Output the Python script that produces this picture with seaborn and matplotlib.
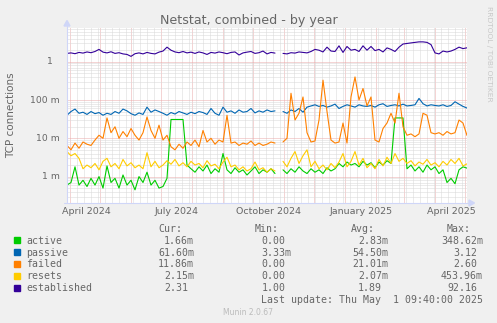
import numpy as np
import pandas as pd
import matplotlib
matplotlib.use("Agg")
import matplotlib.pyplot as plt
import matplotlib.dates as mdates
from matplotlib.lines import Line2D
from matplotlib.patches import Polygon, Rectangle
from matplotlib.ticker import LogLocator, NullFormatter
import seaborn as sns

# ---- data: one sample every 4 days, Munin yearly view (values in milli-units) ----
start = pd.Timestamp("2024-03-29")
dates = pd.date_range(start, periods=101, freq="4D")
nan = np.nan

active = [0.6, 0.7, 1.8, 0.6, 0.8, 0.55, 0.9, 0.6, 1.0, 0.5,
          1.9, 0.7, 0.9, 0.5, 1.1, 0.6, 0.8, 0.45, 1.0, 0.7,
          1.3, 0.6, 0.8, 0.5, 0.55, 0.9, 31, 31, 31, 31,
          2.0, 1.6, 1.3, 1.8, 1.4, 2.0, 1.2, 1.6, 1.3, 4.0,
          1.5, 1.2, 1.7, 1.3, 1.5, 1.1, 1.4, 1.8, 1.2, 1.5,
          1.3, 1.6, 1.2, nan, 1.5, 1.2, 1.6, 1.3, 1.8, 1.4,
          1.2, 1.6, 1.3, 1.5, 1.2, 1.7, 1.4, 1.6, 2.2, 1.8,
          2.4, 2.0, 2.2, 1.8, 2.5, 2.0, 2.3, 1.7, 2.4, 2.0,
          2.6, 2.2, 34, 34, 34, 1.6, 2.0, 1.4, 1.8, 1.3,
          2.0, 1.5, 1.8, 1.2, 1.5, 0.7, 0.9, 0.65, 1.5, 1.8,
          1.66]

passive = [40, 50, 58, 45, 48, 42, 50, 44, 47, 40,
           45, 42, 50, 45, 58, 52, 44, 40, 46, 42,
           65, 48, 55, 50, 45, 40, 47, 43, 50, 46,
           42, 48, 44, 50, 47, 42, 60, 45, 40, 65,
           48, 52, 45, 55, 48, 50, 60, 46, 52, 48,
           55, 50, 52, nan, 50, 45, 55, 50, 60, 48,
           65, 70, 75, 68, 72, 65, 70, 78, 60, 68,
           75, 70, 65, 75, 70, 68, 72, 65, 75, 80,
           68, 72, 75, 70, 78, 70, 72, 75, 110, 80,
           70, 75, 72, 70, 75, 68, 72, 90, 78, 68,
           61.6]

failed = [6.5, 5.0, 7.5, 5.5, 8.0, 7.0, 6.5, 9.0, 12, 10,
          34, 14, 20, 10, 15, 11, 18, 12, 9, 14,
          36, 16, 10, 22, 9, 12, 6, 5, 7, 5.5,
          8, 6.5, 9, 6, 16, 8, 10, 7, 9, 8,
          40, 7.5, 8, 6.5, 7.5, 7, 8.5, 6.5, 7.5, 6.5,
          7, 8, 7.5, nan, 8, 10, 150, 30, 45, 120,
          14, 8, 8.5, 30, 330, 50, 9, 7.5, 8, 25,
          7.5, 120, 400, 100, 200, 70, 120, 9, 8, 18,
          25, 45, 25, 150, 20, 12, 13, 11, 13, 45,
          40, 14, 13, 14, 12, 15, 13, 14, 30, 25,
          11.86]

resets = [4.5, 3.5, 4.0, 3.0, 1.6, 2.0, 1.7, 2.2, 1.5, 2.5,
          3.0, 1.8, 2.2, 1.6, 2.8, 1.9, 2.3, 1.7, 2.0, 1.6,
          4.2, 1.8, 2.5, 1.7, 2.0, 2.6, 2.1, 2.8, 1.9, 2.3,
          1.8, 2.5, 2.0, 2.2, 1.7, 2.6, 1.9, 2.1, 1.6, 2.4,
          3.2, 1.8, 2.0, 1.5, 1.8, 1.4, 1.6, 2.4, 1.5, 1.7,
          1.3, 1.6, 1.4, nan, 2.5, 1.8, 3.0, 4.5, 2.2, 3.5,
          5.0, 1.8, 2.5, 1.6, 2.0, 1.5, 2.2, 1.7, 2.4, 4.0,
          1.8, 2.5, 4.5, 2.0, 3.0, 1.7, 2.2, 1.6, 2.8, 1.9,
          3.2, 2.2, 4.0, 2.5, 3.0, 2.2, 2.6, 1.9, 2.4, 2.1,
          2.8, 2.0, 2.3, 1.8, 2.5, 2.0, 2.8, 2.2, 3.0, 1.9,
          2.15]

established = [1650, 1700, 1620, 1750, 1680, 1800, 1720, 1850, 2100, 1780,
               1700, 1820, 1650, 1720, 1600, 1550, 1380, 1620, 1700, 1600,
               1750, 1650, 1600, 1780, 1900, 2400, 2000, 1800, 1720, 1850,
               1700, 1780, 1650, 1800, 1700, 1550, 1750, 1680, 1800, 1720,
               1620, 1750, 1800, 1500, 1700, 1780, 1850, 1650, 1720, 1900,
               1600, 1750, 1680, nan, 1650, 1600, 1720, 1680, 1800, 1750,
               1700, 1850, 2100, 2000, 1800, 2400, 1900, 1850, 2600, 1750,
               2500, 2000, 2100, 1850, 2600, 2000, 2500, 1950, 2100, 1800,
               2300, 2100, 1850, 2400, 2900, 3000, 3100, 3200, 3300, 3300,
               3200, 2800, 1700, 1600, 1900, 1800, 1900, 2100, 2400, 2200,
               2310]

series_names = ["active", "passive", "failed", "resets", "established"]
series_values = [active, passive, failed, resets, established]
series_colors = ["#00CC00", "#0066B3", "#FF8000", "#FFCC00", "#330099"]

# legend statistics
cur_vals = ["1.66m", "61.60m", "11.86m", "2.15m", "2.31"]
min_vals = ["0.00", "3.33m", "0.00", "0.00", "1.00"]
avg_vals = ["2.83m", "54.50m", "21.01m", "2.07m", "1.89"]
max_vals = ["348.62m", "3.12", "2.60", "453.96m", "92.16"]

month_labels = ["April 2024", "July 2024", "October 2024", "January 2025", "April 2025"]
label_dates = pd.to_datetime(["2024-04-17", "2024-07-17", "2024-10-17", "2025-01-17", "2025-04-17"])

y_tick_values = [1e-3, 1e-2, 1e-1, 1.0]
y_tick_labels = ["1 m", "10 m", "100 m", "1"]

# ---- long-form table; a segment id splits each line at the data gap ----
frames = []
for name, vals in zip(series_names, series_values):
    v = np.asarray(vals, dtype=float) / 1000.0
    frames.append(pd.DataFrame({"date": dates, "value": v, "series": name,
                                "seg": np.cumsum(np.isnan(v))}))
df = pd.concat(frames, ignore_index=True)

sns.set_theme(style="white")
plt.rcParams["font.family"] = ["DejaVu Sans"]
plt.rcParams["lines.scale_dashes"] = False

W, H = 497, 323
FONT = "#666666"


def fx(px):
    return px / W


def fy(py):
    return 1 - py / H


fig = plt.figure(figsize=(W / 100, H / 100), dpi=100, facecolor="#F0F0F0")
ax = fig.add_axes([fx(67), fy(203), 400 / W, 175 / H])
ax.set_facecolor("white")

sns.lineplot(data=df, x="date", y="value", hue="series", hue_order=series_names,
             palette=series_colors, units="seg", estimator=None, sort=False,
             linewidth=0.8, legend=False, ax=ax)

ax.set_yscale("log")
ax.set_ylim(2.04e-4, 7.6)
ax.set_xlim(start, start + pd.Timedelta(days=400))
ax.set_xlabel("")
ax.set_ylabel("")

# grid: monthly / weekly verticals, decades / sub-decades horizontals
ax.xaxis.set_major_locator(mdates.MonthLocator())
ax.xaxis.set_minor_locator(mdates.WeekdayLocator(byweekday=mdates.MO))
ax.xaxis.set_major_formatter(NullFormatter())
ax.xaxis.set_minor_formatter(NullFormatter())
ax.yaxis.set_major_locator(LogLocator(base=10, numticks=20))
ax.yaxis.set_minor_locator(LogLocator(base=10, subs=np.arange(2, 10), numticks=20))
ax.yaxis.set_major_formatter(NullFormatter())
ax.yaxis.set_minor_formatter(NullFormatter())
DOT = (0, (0.72, 0.72))
ax.grid(which="minor", color="#D9D9D9", linestyle=DOT, linewidth=0.72)
ax.grid(which="major", color="#EBAAAA", linestyle=DOT, linewidth=0.72)
ax.set_axisbelow(True)
ax.tick_params(which="major", length=2, width=0.6, color="#EBAAAA")
ax.tick_params(which="minor", length=2, width=0.6, color="#D9D9D9")
for s in ax.spines.values():
    s.set_visible(False)

# y tick labels
for v, lab in zip(y_tick_values, y_tick_labels):
    off = -9.9 if lab == "1" else -5.0
    ax.annotate(lab, xy=(0, v), xycoords=("axes fraction", "data"),
                xytext=(off, 0), textcoords="offset points",
                ha="right", va="center", fontsize=6.7, color=FONT)

# x labels, centred mid-month
for d, lab in zip(label_dates, month_labels):
    ax.text(d, -0.0606, lab, transform=ax.get_xaxis_transform(),
            ha="center", va="baseline", fontsize=6.8, color=FONT)

# axis lines with arrows
AX = "#CFD6F8"
fig.add_artist(Line2D([fx(67), fx(67)], [fy(203), fy(25)], color=AX, lw=0.8,
                      transform=fig.transFigure))
fig.add_artist(Line2D([fx(64), fx(470)], [fy(203), fy(203)], color=AX, lw=0.8,
                      transform=fig.transFigure))
fig.add_artist(Polygon([(fx(64), fy(26)), (fx(70), fy(26)), (fx(67), fy(20.5))],
                       closed=True, color=AX, transform=fig.transFigure))
fig.add_artist(Polygon([(fx(469), fy(200)), (fx(469), fy(206)), (fx(474.5), fy(203))],
                       closed=True, color=AX, transform=fig.transFigure))

# titles
fig.text(fx(248.7), fy(24.3), "Netstat, combined - by year", ha="center",
         va="baseline", fontsize=9.1, color=FONT)
fig.text(fx(10.8), fy(115.5), "TCP connections", rotation=90, ha="center",
         va="center", fontsize=7.5, color=FONT)
fig.text(fx(488.5), fy(53.5), "RRDTOOL / TOBI OETIKER", rotation=270,
         ha="center", va="center", fontsize=5.4, color="#C8C8C8")

# legend
MONO = "DejaVu Sans Mono"
LS = 7.1
CW = 6.0
fig.text(fx(158.3), fy(232), "Cur:", family=MONO, fontsize=LS, color=FONT, va="baseline")
fig.text(fx(255.0), fy(232), "Min:", family=MONO, fontsize=LS, color=FONT, va="baseline")
fig.text(fx(351.0), fy(232), "Avg:", family=MONO, fontsize=LS, color=FONT, va="baseline")
fig.text(fx(446.7), fy(232), "Max:", family=MONO, fontsize=LS, color=FONT, va="baseline")

col_right = [194, 291.5, 388, 483]
for k, (name, col) in enumerate(zip(series_names, series_colors)):
    base = 243.7 + 11.85 * k
    fig.add_artist(Rectangle((fx(14), fy(base - 0.5)), 6 / W, 6 / H,
                             color=col, transform=fig.transFigure))
    fig.text(fx(26.5), fy(base), name, family=MONO, fontsize=LS, color=FONT,
             va="baseline")
    for r, vals in zip(col_right, [cur_vals, min_vals, avg_vals, max_vals]):
        s = vals[k]
        rx = r if s.endswith("m") else r - CW
        fig.text(fx(rx), fy(base), s, family=MONO, fontsize=LS, color=FONT,
                 va="baseline", ha="right")

fig.text(fx(483), fy(303), "Last update: Thu May  1 09:40:00 2025", family=MONO,
         fontsize=LS, color=FONT, va="baseline", ha="right")
fig.text(fx(248), fy(315), "Munin 2.0.67", fontsize=5.5, color="#BBBBBB",
         ha="center", va="baseline")

fig.savefig("out.png", dpi=100, facecolor=fig.get_facecolor())
